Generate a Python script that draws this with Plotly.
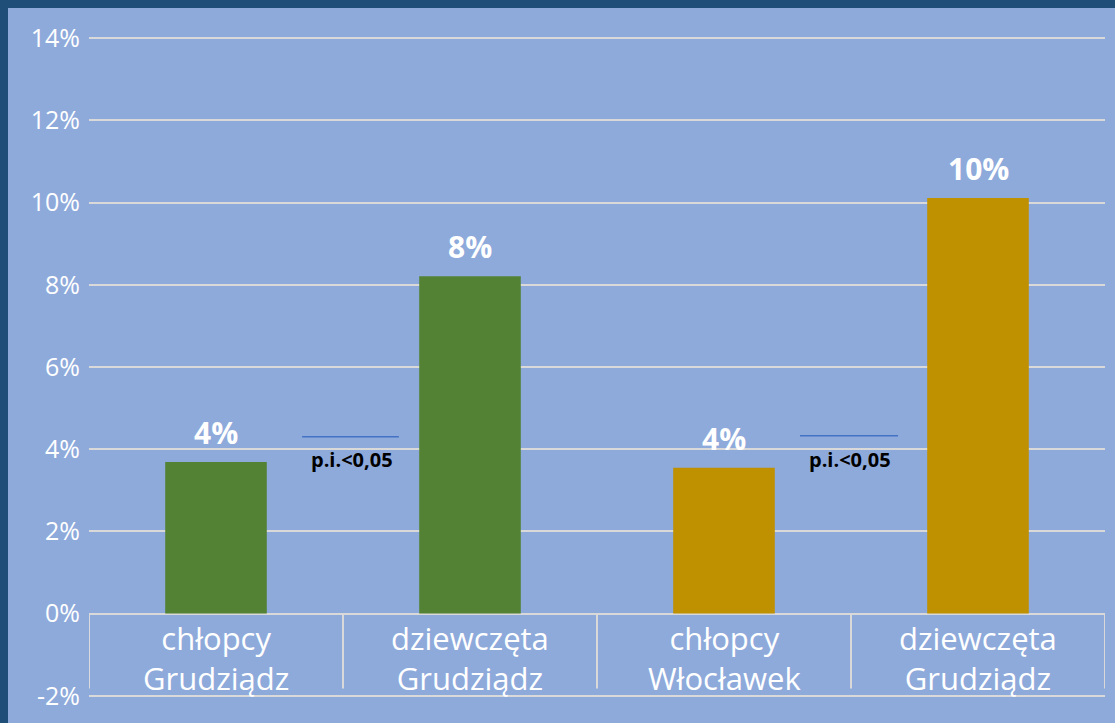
import plotly.graph_objects as go

categories = ["chłopcy<br>Grudziądz", "dziewczęta<br>Grudziądz", "chłopcy<br>Włocławek", "dziewczęta<br>Grudziądz"]
values = [3.69, 8.21, 3.55, 10.11]
value_labels = ["4%", "8%", "4%", "10%"]
bar_colors = ["#548235", "#548235", "#bf9000", "#bf9000"]
sig_text = "p.i.<0,05"
sig_levels = [4.30, 4.33]
y_ticks = [-2, 0, 2, 4, 6, 8, 10, 12, 14]
y_ticklabels = ["-2%", "0%", "2%", "4%", "6%", "8%", "10%", "12%", "14%"]

# layout-only placement of the significance markers (x in category units)
sig_line_x = [(0.339, 0.720), (2.299, 2.685)]
sig_text_x = [0.535, 2.496]

xs = list(range(len(categories)))
FONT = "Open Sans"

fig = go.Figure()
fig.add_trace(go.Bar(
    x=xs, y=values, width=0.4,
    marker=dict(color=bar_colors, line=dict(width=0)),
    showlegend=False, hoverinfo="skip",
))

shapes = []
annotations = []
# value labels above bars
for i, (v, t) in enumerate(zip(values, value_labels)):
    annotations.append(dict(x=i, y=v, xref="x", yref="y", text="<b>" + t + "</b>", showarrow=False,
                            yanchor="bottom", yshift=7,
                            font=dict(family=FONT, size=30, color="white")))
# category separator lines below zero
for b in [-0.5, 0.5, 1.5, 2.5, 3.5]:
    shapes.append(dict(type="line", xref="x", yref="y", x0=b, x1=b, y0=0, y1=-1.82,
                       line=dict(color="#d9d9d9", width=2), layer="above"))
# category labels (two lines each)
for i, c in enumerate(categories):
    annotations.append(dict(x=i, y=-1.07, xref="x", yref="y", text=c, showarrow=False,
                            yanchor="middle",
                            font=dict(family=FONT, size=31, color="white")))
for (x0, x1), tx, lvl in zip(sig_line_x, sig_text_x, sig_levels):
    shapes.append(dict(type="line", xref="x", yref="y", x0=x0, x1=x1,
                       y0=lvl, y1=lvl, line=dict(color="#4472c4", width=1.5)))
    annotations.append(dict(x=tx, y=4.30 - 0.56, xref="x", yref="y", text="<b>" + sig_text + "</b>",
                            showarrow=False, font=dict(family=FONT, size=20, color="black")))

# plot area: top at 30px, height 674px, left 89px, width 1016px
PT, PH, PL, PW = 30, 674, 89, 1016
def py(p):
    return (PT + PH - p) / PH
def px(p):
    return (p - PL) / PW

# outer dark border strips (top and left)
shapes.append(dict(type="rect", xref="paper", yref="paper", x0=px(-20), x1=px(1140),
                   y0=py(8), y1=py(-20), fillcolor="#1f4e79", line=dict(width=0), layer="above"))
shapes.append(dict(type="rect", xref="paper", yref="paper", x0=px(-20), x1=px(8),
                   y0=py(740), y1=py(-20), fillcolor="#1f4e79", line=dict(width=0), layer="above"))

fig.update_layout(
    width=1115, height=723,
    margin=dict(l=PL, r=1115 - PL - PW, t=PT, b=723 - PT - PH),
    paper_bgcolor="#8eaadb", plot_bgcolor="#8eaadb",
    shapes=shapes, annotations=annotations,
    xaxis=dict(range=[-0.5, 3.5], showticklabels=False, showgrid=False, zeroline=False, fixedrange=True),
    yaxis=dict(range=[-2.2, 14.2], tickvals=y_ticks, ticktext=y_ticklabels,
               gridcolor="#d9d9d9", gridwidth=2, zeroline=False, fixedrange=True,
               tickfont=dict(family=FONT, size=25, color="white"), ticklabelstandoff=8),
    bargap=0.6,
)

fig.write_html("out.html", config={"displayModeBar": False},
               post_script="document.body.style.margin='0px';document.body.style.overflow='hidden';")
